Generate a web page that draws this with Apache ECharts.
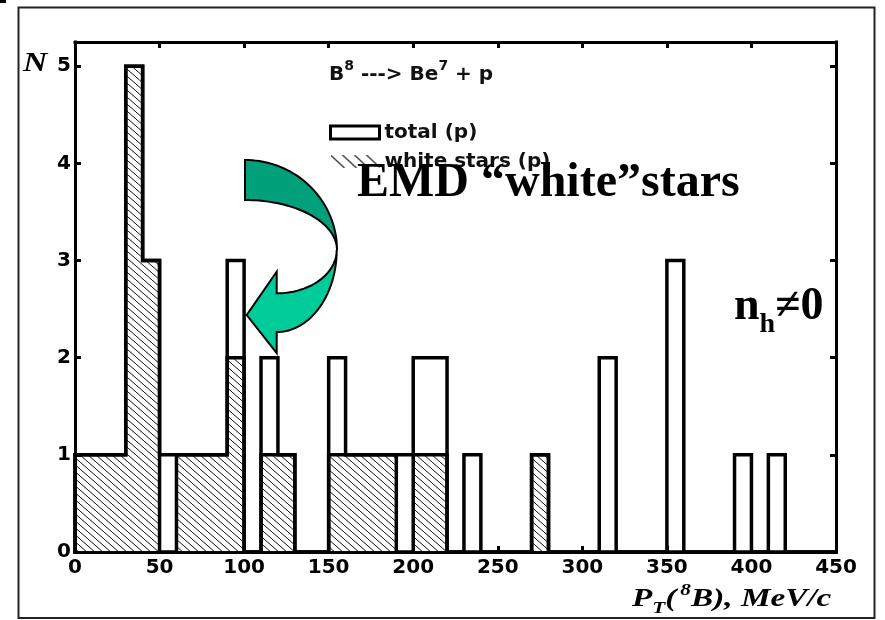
<!DOCTYPE html>
<html>
<head>
<meta charset="utf-8">
<script src="https://cdn.jsdelivr.net/npm/echarts@6/dist/echarts.min.js"></script>
<style>
html, body { margin: 0; padding: 0; background: #fff; }
#chart { width: 885px; height: 620px; }
</style>
</head>
<body>
<div id="chart"></div>
<script>
// Transverse momentum of the 8B system, 10 MeV/c bins (left edge of each bin)
const binEdges = [0, 10, 20, 30, 40, 50, 60, 70, 80, 90,
                  100, 110, 120, 130, 140, 150, 160, 170, 180, 190,
                  200, 210, 220, 230, 240, 250, 260, 270, 280, 290,
                  300, 310, 320, 330, 340, 350, 360, 370, 380, 390,
                  400, 410, 420, 430, 440];
// all B8 -> Be7 + p events
const totalCounts = [1, 1, 1, 5, 3, 1, 1, 1, 1, 3,
                     0, 2, 1, 0, 0, 2, 1, 1, 1, 1,
                     2, 2, 0, 1, 0, 0, 0, 1, 0, 0,
                     0, 2, 0, 0, 0, 3, 0, 0, 0, 1,
                     0, 1, 0, 0, 0];
// "white" stars only
const whiteStarCounts = [1, 1, 1, 5, 3, 0, 1, 1, 1, 2,
                         0, 1, 1, 0, 0, 1, 1, 1, 1, 0,
                         1, 1, 0, 0, 0, 0, 0, 1, 0, 0,
                         0, 0, 0, 0, 0, 0, 0, 0, 0, 0,
                         0, 0, 0, 0, 0];
const xTickLabels = [0, 50, 100, 150, 200, 250, 300, 350, 400, 450];
const yTickLabels = [0, 1, 2, 3, 4, 5];
const seriesNames = ['total (p)', 'white stars (p)'];

const binWidth = binEdges[1] - binEdges[0];

// histogram outline as a step polyline: rise at the first edge, drop after the last bin
function stepPoints(counts) {
  const pts = [[binEdges[0], 0]];
  counts.forEach((c, i) => pts.push([binEdges[i], c]));
  pts.push([binEdges[binEdges.length - 1] + binWidth, 0]);
  return pts;
}

// diagonal "\\" hatching tile
function hatchTile() {
  const w = 8, h = 7;
  const c = document.createElement('canvas');
  c.width = w; c.height = h;
  const g = c.getContext('2d');
  g.strokeStyle = '#111';
  g.lineWidth = 1;
  for (const dx of [-w, 0, w]) {
    g.beginPath(); g.moveTo(dx, 0); g.lineTo(dx + w, h); g.stroke();
  }
  return c;
}

// sparse hatch sample for the legend
function hatchIcon() {
  const s = 2, w = 49, h = 13;
  const c = document.createElement('canvas');
  c.width = w * s; c.height = h * s;
  const g = c.getContext('2d');
  g.scale(s, s);
  g.strokeStyle = '#222';
  g.lineWidth = 1.2;
  [0, 12, 24, 36].forEach(x0 => {
    g.beginPath(); g.moveTo(x0, 0); g.lineTo(x0 + 14, h); g.stroke();
  });
  return c.toDataURL();
}

// points along an elliptical arc (screen coordinates, angle grows clockwise)
function arc(cx, cy, rx, ry, a0, a1, n) {
  const pts = [];
  for (let i = 0; i <= n; i++) {
    const a = (a0 + (a1 - a0) * i / n) * Math.PI / 180;
    pts.push([cx + rx * Math.cos(a), cy + ry * Math.sin(a)]);
  }
  return pts;
}

// curved call-out arrow: upper band and lower band with head
const arrowUpper = arc(245, 250, 92, 90, -90, 0, 40)
  .concat(arc(245, 250, 92, 50, 0, -90, 40));
const arrowLower = arc(276.7, 250, 60, 82, 0, 90, 40)
  .concat([[276.7, 353], [246.7, 315], [276.7, 271.7]])
  .concat(arc(276.7, 250, 60, 43.3, 90, 0, 40));

const sansBold = 'bold 20px "DejaVu Sans"';
const axisLineStyle = { color: '#000', width: 3, cap: 'square' };
const tickStyle = { show: true, inside: true, length: 6, lineStyle: { color: '#000', width: 3 } };
const xMin = xTickLabels[0], xMax = xTickLabels[xTickLabels.length - 1];
const xStep = xTickLabels[1] - xTickLabels[0];
const yMin = yTickLabels[0], yStep = yTickLabels[1] - yTickLabels[0];
const yMax = 5.25;

const chart = echarts.init(document.getElementById('chart'), null, { renderer: 'canvas' });

const option = {
  animation: false,
  backgroundColor: '#fff',
  grid: { left: 75, right: 49, top: 42, bottom: 68, outerBoundsMode: 'none', containLabel: false },
  xAxis: [
    {
      type: 'value', min: xMin, max: xMax, interval: xStep, position: 'bottom',
      axisLine: { show: true, onZero: false, lineStyle: axisLineStyle },
      axisTick: tickStyle,
      axisLabel: { show: true, color: '#000', fontFamily: 'DejaVu Sans', fontWeight: 'bold', fontSize: 20, margin: 6 },
      splitLine: { show: false }
    },
    {
      type: 'value', min: xMin, max: xMax, interval: xStep, position: 'top',
      axisLine: { show: true, onZero: false, lineStyle: axisLineStyle },
      axisTick: tickStyle,
      axisLabel: { show: false },
      splitLine: { show: false }
    }
  ],
  yAxis: [
    {
      type: 'value', min: yMin, max: yMax, interval: yStep, position: 'left',
      axisLine: { show: true, onZero: false, lineStyle: axisLineStyle },
      axisTick: tickStyle,
      axisLabel: {
        show: true, color: '#000', fontFamily: 'DejaVu Sans', fontWeight: 'bold', fontSize: 20, margin: 4,
        showMaxLabel: false,
        formatter: v => (yTickLabels.indexOf(v) >= 0 ? String(v) : '')
      },
      splitLine: { show: false }
    },
    {
      type: 'value', min: yMin, max: yMax, interval: yStep, position: 'right',
      axisLine: { show: true, onZero: false, lineStyle: axisLineStyle },
      axisTick: tickStyle,
      axisLabel: { show: false },
      splitLine: { show: false }
    }
  ],
  legend: {
    orient: 'vertical',
    left: 329, top: 122.5,
    padding: 0,
    itemWidth: 49, itemHeight: 13, itemGap: 9,
    selectedMode: false,
    textStyle: { color: '#111', fontFamily: 'DejaVu Sans', fontWeight: 'bold', fontSize: 20 },
    data: [
      { name: seriesNames[0], icon: 'rect', itemStyle: { color: '#fff', borderColor: '#000', borderWidth: 3 } },
      { name: seriesNames[1], icon: 'image://' + hatchIcon() }
    ]
  },
  series: [
    {
      name: seriesNames[1],
      type: 'line',
      step: 'end',
      data: stepPoints(whiteStarCounts),
      symbol: 'none',
      showSymbol: false,
      lineStyle: { color: '#000', width: 3.5, join: 'miter', cap: 'square' },
      itemStyle: { color: '#000' },
      areaStyle: { color: { image: hatchTile(), repeat: 'repeat' }, opacity: 1 },
      z: 2
    },
    {
      name: seriesNames[0],
      type: 'line',
      step: 'end',
      data: stepPoints(totalCounts),
      symbol: 'none',
      showSymbol: false,
      lineStyle: { color: '#000', width: 3.5, join: 'miter', cap: 'square' },
      itemStyle: { color: '#000' },
      z: 3
    }
  ],
  graphic: {
    elements: [
      // outer frame
      { type: 'rect', z: 50, shape: { x: 18.5, y: 7.5, width: 856, height: 610.5 },
        style: { fill: null, stroke: '#222', lineWidth: 2 } },
      { type: 'rect', z: 50, shape: { x: 0, y: 0, width: 6, height: 3 }, style: { fill: '#000' } },
      // y-axis name
      { type: 'text', z: 60, x: 23, y: 63.5, scaleX: 1.2,
        style: { text: 'N', x: 0, y: 0, font: 'italic bold 28px "Liberation Serif"', fill: '#000',
                 textAlign: 'left', textVerticalAlign: 'middle', align: 'left', verticalAlign: 'middle' } },
      // x-axis name
      { type: 'text', z: 60, x: 632, y: 600, scaleX: 1.33,
        style: {
          text: '{m|P}{sub|T}{m|(}{sup|8}{m|B), MeV/c}', x: 0, y: 0, fill: '#000',
          textAlign: 'left', textVerticalAlign: 'middle', align: 'left', verticalAlign: 'middle',
          rich: {
            m: { font: 'italic bold 25px "Liberation Serif"', lineHeight: 34, verticalAlign: 'middle', fill: '#000' },
            sub: { font: 'italic bold 16px "Liberation Serif"', lineHeight: 16, verticalAlign: 'bottom', fill: '#000' },
            sup: { font: 'italic bold 16px "Liberation Serif"', lineHeight: 16, verticalAlign: 'top', fill: '#000', padding: [0, 0, 0, 3] }
          }
        } },
      // reaction
      { type: 'text', z: 60, x: 329, y: 75,
        style: {
          text: '{m|B}{sup|8}{m| ---> Be}{sup|7}{m| + p}', x: 0, y: 0, fill: '#111',
          textAlign: 'left', textVerticalAlign: 'middle', align: 'left', verticalAlign: 'middle',
          rich: {
            m: { font: sansBold, lineHeight: 32, verticalAlign: 'middle', fill: '#111' },
            sup: { font: 'bold 14px "DejaVu Sans"', lineHeight: 12, verticalAlign: 'top', fill: '#111' }
          }
        } },
      // curved arrow
      { type: 'polygon', z: 70, shape: { points: arrowUpper },
        style: { fill: '#00A07A', stroke: '#000', lineWidth: 2 } },
      { type: 'polygon', z: 71, shape: { points: arrowLower },
        style: { fill: '#00CC99', stroke: '#000', lineWidth: 2 } },
      // annotations
      { type: 'text', z: 80, x: 357, y: 184, scaleX: 1.0,
        style: { text: 'EMD \u201Cwhite\u201Dstars', x: 0, y: 0, font: 'bold 48px "Liberation Serif"', fill: '#000',
                 textAlign: 'left', textVerticalAlign: 'middle', align: 'left', verticalAlign: 'middle' } },
      { type: 'text', z: 80, x: 734, y: 307.5,
        style: {
          text: '{m|n}{sub|h}{m|\u22600}', x: 0, y: 0, fill: '#000',
          textAlign: 'left', textVerticalAlign: 'middle', align: 'left', verticalAlign: 'middle',
          rich: {
            m: { font: 'bold 46px "Liberation Serif"', lineHeight: 62, verticalAlign: 'middle', fill: '#000' },
            sub: { font: 'bold 28px "Liberation Serif"', lineHeight: 28, verticalAlign: 'bottom', fill: '#000' }
          }
        } }
    ]
  }
};

chart.setOption(option);
</script>
</body>
</html>
